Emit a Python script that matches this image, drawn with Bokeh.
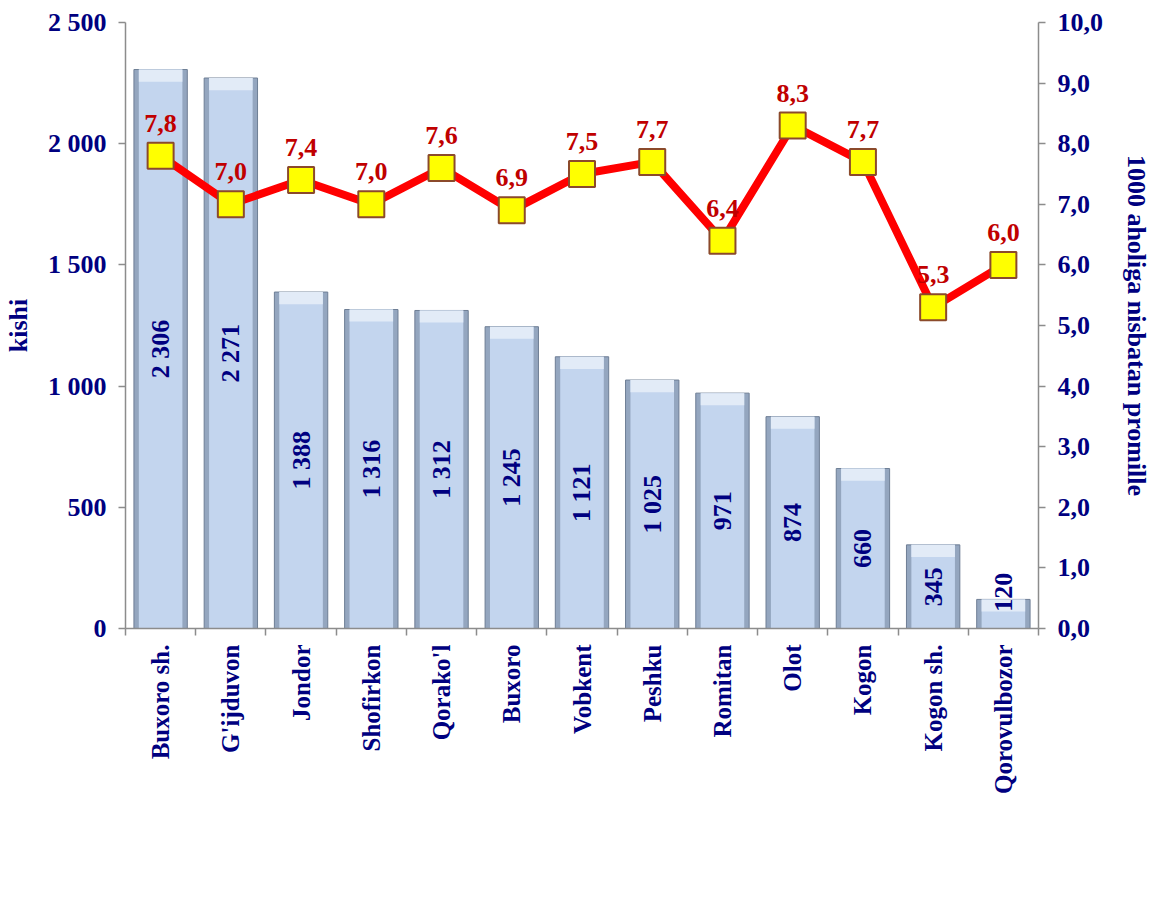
import math
from bokeh.plotting import figure
from bokeh.models import (Range1d, LinearAxis, FixedTicker,
                          ColumnDataSource, Legend, LegendItem, LabelSet)
from bokeh.core.properties import value
from bokeh.embed import file_html
from bokeh.resources import INLINE

districts = ["Buxoro sh.", "G'ijduvon", "Jondor", "Shofirkon", "Qorako'l", "Buxoro",
             "Vobkent", "Peshku", "Romitan", "Olot", "Kogon", "Kogon sh.", "Qorovulbozor"]
marriages = [2306, 2271, 1388, 1316, 1312, 1245, 1121, 1025, 971, 874, 660, 345, 120]
rate = [7.8, 7.0, 7.4, 7.0, 7.6, 6.9, 7.5, 7.7, 6.4, 8.3, 7.7, 5.3, 6.0]
left_ticks = [0, 500, 1000, 1500, 2000, 2500]
right_ticks = [0, 1, 2, 3, 4, 5, 6, 7, 8, 9, 10]

FONT = "Liberation Serif"
NAVY = "#000080"
DARKRED = "#C00000"

def fmt_int(v):
    return f"{v:,}".replace(",", " ")

def fmt_dec(v):
    return f"{v:.1f}".replace(".", ",")

n = len(districts)
xc = [i + 0.5 for i in range(n)]  # category centres

src = ColumnDataSource(dict(
    x=xc,
    m=marriages,
    bev=[max(v - 50, 0) for v in marriages],
    mlab=[fmt_int(v) for v in marriages],
    mpos=[max(v / 2, 150) for v in marriages],
    r=rate,
    rlab=[fmt_dec(v) for v in rate],
))

p = figure(frame_width=913, frame_height=606, x_range=Range1d(0, n), y_range=Range1d(0, 2500),
           output_backend="svg", toolbar_location=None,
           x_axis_location=None, y_axis_location=None,
           min_border_left=119, min_border_right=126, min_border_top=22, min_border_bottom=4)
p.extra_y_ranges = {"rate": Range1d(0, 10)}
p.xgrid.visible = False
p.ygrid.visible = False
p.outline_line_color = None
p.background_fill_color = "white"
p.border_fill_color = "white"

def style_axis(ax, size="26px"):
    ax.major_label_text_font = FONT
    ax.major_label_text_font_style = "bold"
    ax.major_label_text_font_size = size
    ax.major_label_text_color = NAVY
    ax.axis_line_color = "#8C8C8C"
    ax.axis_line_width = 1.5
    ax.major_tick_line_color = "#8C8C8C"
    ax.major_tick_line_width = 1.5
    ax.minor_tick_line_color = None
    ax.axis_label_text_font = FONT
    ax.axis_label_text_font_style = "bold"
    ax.axis_label_text_font_size = "26px"
    ax.axis_label_text_color = NAVY

# left axis
ly = LinearAxis(ticker=FixedTicker(ticks=left_ticks), axis_label="kishi")
ly.major_label_overrides = {t: fmt_int(t) for t in left_ticks}
style_axis(ly)
ly.major_tick_out = 7
ly.major_tick_in = 0
ly.major_label_standoff = 12
ly.axis_label_standoff = 12
p.add_layout(ly, "left")

# right axis
ry = LinearAxis(y_range_name="rate", ticker=FixedTicker(ticks=right_ticks),
                axis_label="1000 aholiga nisbatan promille")
ry.major_label_overrides = {t: fmt_dec(t) for t in right_ticks}
style_axis(ry)
ry.major_tick_out = 7
ry.major_tick_in = 0
ry.major_label_standoff = 12
ry.axis_label_standoff = 16
p.add_layout(ry, "right")

# x tick axis (ticks between categories)
tx = LinearAxis(ticker=FixedTicker(ticks=list(range(n + 1))))
style_axis(tx)
tx.major_label_text_font_size = "0px"
tx.major_label_text_color = None
tx.major_tick_out = 7
tx.major_tick_in = 0
tx.major_label_standoff = 0
p.add_layout(tx, "below")

# category labels
cx = LinearAxis(ticker=FixedTicker(ticks=xc))
cx.major_label_overrides = {x: d for x, d in zip(xc, districts)}
style_axis(cx, "25px")
cx.axis_line_color = None
cx.major_tick_line_color = None
cx.major_label_orientation = math.pi / 2
cx.major_label_standoff = 3
p.add_layout(cx, "below")

# bars (outer darker bevel + lighter face + light top bevel)
bars = p.vbar(x="x", top="m", bottom=0, width=0.76, source=src,
              fill_color="#94A6BF", line_color="#6E7E95", line_width=1)
p.vbar(x="x", top="m", bottom=0, width=0.62, source=src,
       fill_color="#C3D5EE", line_color=None)
p.vbar(x="x", top="m", bottom="bev", width=0.62, source=src,
       fill_color="#E2EBF7", line_color=None)

bar_labels = LabelSet(x="x", y="mpos", text="mlab", source=src, angle=math.pi / 2,
                      text_align="center", text_baseline="middle",
                      text_font=value(FONT), text_font_style="bold",
                      text_font_size="26px", text_color=NAVY)
p.add_layout(bar_labels)

# line + markers
ln = p.line(x="x", y="r", source=src, y_range_name="rate", line_color="#FF0000", line_width=8)
mk = p.scatter(x="x", y="r", source=src, y_range_name="rate", marker="square", size=26,
               fill_color="#FFFF00", line_color="#8B4A2B", line_width=2)
rate_labels = LabelSet(x="x", y="r", text="rlab", source=src, y_range_name="rate",
                       y_offset=24, text_align="center", text_baseline="bottom",
                       text_font=value(FONT), text_font_style="bold",
                       text_font_size="26px", text_color=DARKRED)
p.add_layout(rate_labels)

legend = Legend(items=[LegendItem(label="tuzilgan nikohlar", renderers=[bars]),
                       LegendItem(label="nikoh tuzish kofitsenti", renderers=[ln, mk])],
                orientation="horizontal", location="center",
                label_text_font=FONT, label_text_font_style="bold",
                label_text_font_size="22px", label_text_color=NAVY,
                border_line_color=None, background_fill_alpha=0,
                glyph_width=60, glyph_height=16, spacing=45, label_standoff=2,
                padding=0, margin=0)
p.add_layout(legend, "below")

open("out.html", "w").write(file_html(p, INLINE))
